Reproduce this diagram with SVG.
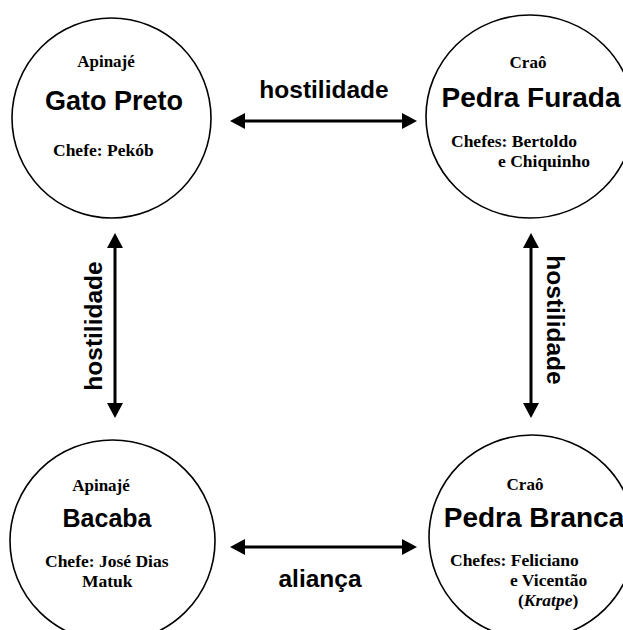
<svg xmlns="http://www.w3.org/2000/svg" width="623" height="630" viewBox="0 0 623 630">
<defs>
<marker id="ah" viewBox="0 0 15 16" refX="0" refY="8" markerWidth="15" markerHeight="16" orient="auto-start-reverse" markerUnits="userSpaceOnUse">
<path d="M0,0 L15,8 L0,16 z" fill="#000"/>
</marker>
<style>
.c{fill:#fff;stroke:#000;stroke-width:1.6}
.tribe{font-family:"Liberation Serif","Times New Roman",serif;font-weight:bold;font-size:17px;fill:#000;text-anchor:middle}
.name{font-family:"Liberation Sans",Arial,sans-serif;font-weight:bold;font-size:28px;fill:#000;text-anchor:middle}
.chef{font-family:"Liberation Serif","Times New Roman",serif;font-weight:bold;font-size:17.5px;fill:#000}
.lbl{font-family:"Liberation Sans",Arial,sans-serif;font-weight:bold;font-size:24.5px;fill:#000;text-anchor:middle}
.ln{stroke:#000;stroke-width:3;fill:none;marker-start:url(#ah);marker-end:url(#ah)}
</style>
</defs>
<rect width="623" height="630" fill="#fff"/>
<g id="connectors">
<line class="ln" x1="245" y1="121" x2="402" y2="121"/>
<line class="ln" x1="245" y1="547" x2="402" y2="547"/>
<line class="ln" x1="115" y1="248" x2="115" y2="403"/>
<line class="ln" x1="531" y1="248" x2="531" y2="403"/>
<text class="lbl" x="324" y="98">hostilidade</text>
<text class="lbl" x="320" y="587">aliança</text>
<text class="lbl" transform="translate(102,326) rotate(-90)">hostilidade</text>
<text class="lbl" transform="translate(547,320) rotate(90)">hostilidade</text>
</g>
<g id="gato-preto">
<ellipse class="c" cx="111.5" cy="118" rx="99.5" ry="100"/>
<text class="tribe" x="106" y="67">Apinajé</text>
<text class="name" x="114" y="110" style="font-size:27px">Gato Preto</text>
<text class="chef" x="53" y="156">Chefe: Pekób</text>
</g>
<g id="pedra-furada">
<ellipse class="c" cx="530" cy="116.5" rx="104" ry="101.5"/>
<text class="tribe" x="528" y="68">Craô</text>
<text class="name" x="531" y="107">Pedra Furada</text>
<text class="chef" x="451" y="147">Chefes: Bertoldo</text>
<text class="chef" x="498" y="167">e Chiquinho</text>
</g>
<g id="bacaba">
<ellipse class="c" cx="112.5" cy="541" rx="102.5" ry="101"/>
<text class="tribe" x="101" y="491">Apinajé</text>
<text class="name" x="107" y="527" style="font-size:25px">Bacaba</text>
<text class="chef" x="45" y="567">Chefe: José Dias</text>
<text class="chef" x="82" y="587">Matuk</text>
</g>
<g id="pedra-branca">
<ellipse class="c" cx="532" cy="537" rx="103" ry="102"/>
<text class="tribe" x="525" y="490">Craô</text>
<text class="name" x="534" y="527">Pedra Branca</text>
<text class="chef" x="450" y="566">Chefes: Feliciano</text>
<text class="chef" x="510" y="586">e Vicentão</text>
<text class="chef" x="518" y="606">(<tspan font-style="italic">Kratpe</tspan>)</text>
</g>
</svg>
